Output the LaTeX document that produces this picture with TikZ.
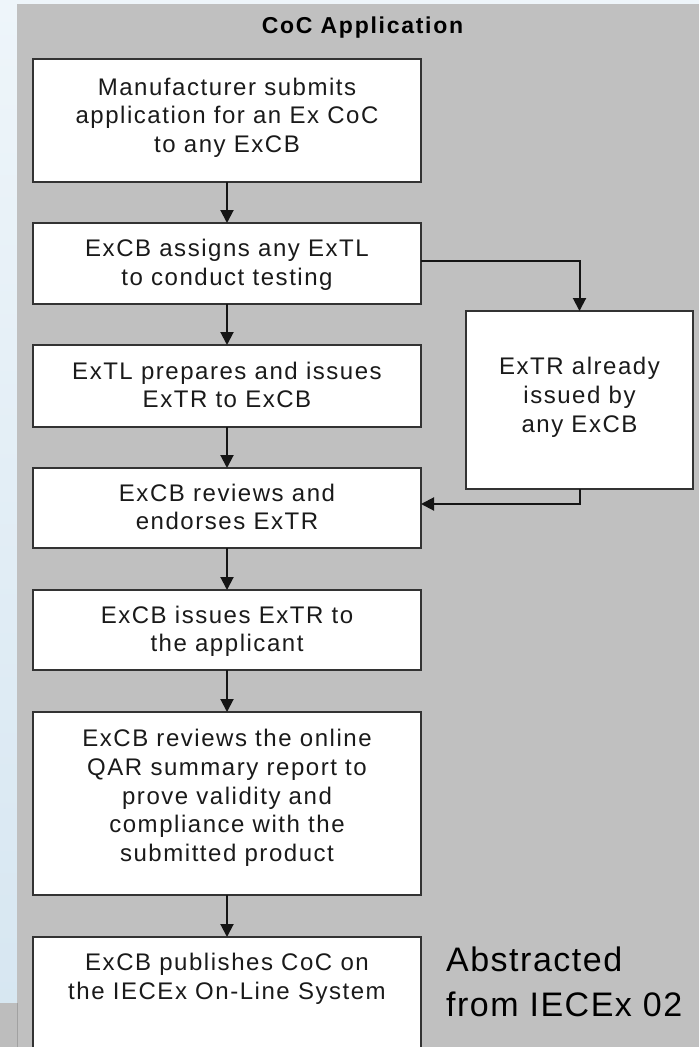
\documentclass[tikz,border=0pt]{standalone}
\usepackage{fontspec}
\setmainfont{Liberation Sans}
\newfontfamily\bodyfont[LetterSpace=6.4]{Liberation Sans}
\newfontfamily\headfont[LetterSpace=7.5]{Liberation Sans}
\newfontfamily\notefont[LetterSpace=4.4]{Liberation Sans}
\usetikzlibrary{arrows.meta}
\definecolor{panel}{HTML}{C0C0C0}
\definecolor{boxline}{HTML}{333333}
\definecolor{arrowcol}{HTML}{151515}
\definecolor{textcol}{HTML}{1A1A1A}
\definecolor{bgtop}{HTML}{EEF5FA}
\definecolor{bgbot}{HTML}{D6E6F1}
\definecolor{stripgray}{HTML}{BDBDBD}
\begin{document}
\begin{tikzpicture}[x=1pt,y=-1pt,
  box/.style={draw=boxline, line width=2pt, fill=white, rectangle, inner sep=0pt, outer sep=0pt, anchor=north west},
  txt/.style={font={\bodyfont\fontsize{24}{28.75}\selectfont}, text=textcol, align=center, inner sep=0pt, anchor=north},
  arr/.style={draw=arrowcol, line width=2pt, -{Triangle[length=13pt,width=13pt]}}]
\useasboundingbox (0,0) rectangle (699,1047);
\clip (0,0) rectangle (699,1047);
% background
\shade[top color=bgtop, bottom color=bgbot] (0,0) rectangle (699,1047);
\fill[stripgray] (0,1003) rectangle (17,1047);
\fill[panel] (17,4) rectangle (699,1047);
\draw[color=stripgray!85!black, line width=0.8pt] (17,1003) -- (17,1047);
% title
\node[font={\headfont\bfseries\fontsize{23}{28}\selectfont}, text=black, anchor=base, inner sep=0pt] (title) at (362.5,33) {CoC Application};
% boxes
\node[box, minimum width=388, minimum height=123] (b1) at (33,59) {};
\node[box, minimum width=388, minimum height=81] (b2) at (33,223) {};
\node[box, minimum width=388, minimum height=82] (b3) at (33,345) {};
\node[box, minimum width=388, minimum height=80] (b4) at (33,468) {};
\node[box, minimum width=388, minimum height=80] (b5) at (33,590) {};
\node[box, minimum width=388, minimum height=183] (b6) at (33,712) {};
\node[box, minimum width=388, minimum height=140] (b7) at (33,937) {};
\node[box, minimum width=227, minimum height=178] (rb) at (466,311) {};
% texts
\node[txt] (t1) at (227,77.5) {Manufacturer submits\\application for an Ex CoC\\to any ExCB};
\node[txt] (t2) at (227,239) {ExCB assigns any ExTL\\to conduct testing};
\node[txt] (t3) at (227,361.5) {ExTL prepares and issues\\ExTR to ExCB};
\node[txt] (t4) at (227,483.5) {ExCB reviews and\\endorses ExTR};
\node[txt] (t5) at (227,605.5) {ExCB issues ExTR to\\the applicant};
\node[txt] (t6) at (227,729) {ExCB reviews the online\\QAR summary report to\\prove validity and\\compliance with the\\submitted product};
\node[txt] (t7) at (227,953) {ExCB publishes CoC on\\the IECEx On-Line System};
\node[txt] (t8) at (579.5,357) {ExTR already\\issued by\\any ExCB};
% note
\node[font={\notefont\fontsize{34}{45}\selectfont}, text=black, align=left, anchor=north west, inner sep=0pt] (note) at (446,946.5) {Abstracted\\from IECEx 02};
% connectors
\draw[arr] (b1.south) -- (b2.north);
\draw[arr] (b2.south) -- (b3.north);
\draw[arr] (b3.south) -- (b4.north);
\draw[arr] (b4.south) -- (b5.north);
\draw[arr] (b5.south) -- (b6.north);
\draw[arr] (b6.south) -- (b7.north);
\draw[arr] ([yshift=2.5pt]b2.east) -| (rb.north);
\draw[arr] (rb.south) |- ([yshift=4pt]b4.east);
\end{tikzpicture}
\end{document}
